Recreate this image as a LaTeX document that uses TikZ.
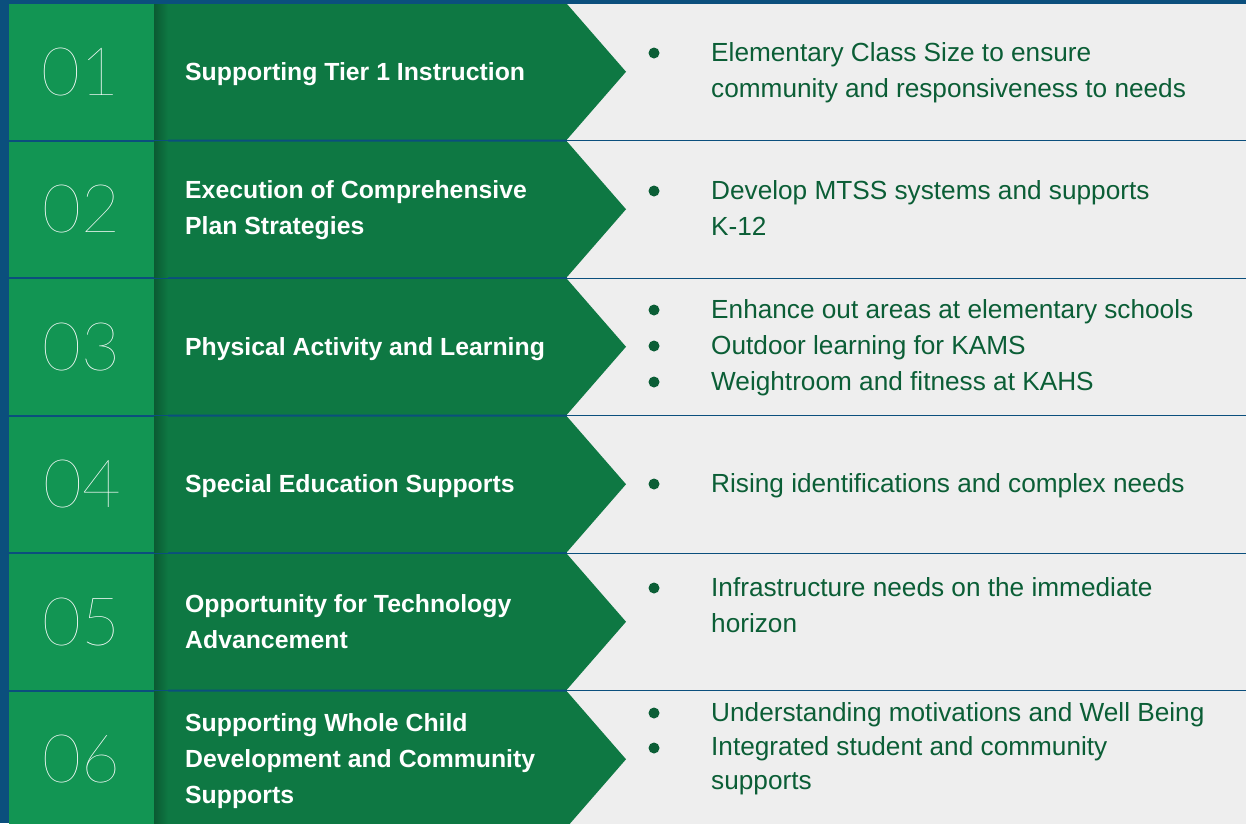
\documentclass[tikz,border=0pt]{standalone}
\usepackage{fontspec}
\setmainfont{Liberation Sans}
% light face for the large row numbers, with fallbacks
\IfFontExistsTF{Lato Thin}{\newfontfamily\thinfont{Lato Thin}}{%
  \IfFontExistsTF{Fira Sans Thin}{\newfontfamily\thinfont{Fira Sans Thin}}{%
    \IfFontExistsTF{Lato Hairline}{\newfontfamily\thinfont{Lato Hairline}}{%
      \IfFontExistsTF{Fira Sans ExtraLight}{\newfontfamily\thinfont{Fira Sans ExtraLight}}{%
        \IfFontExistsTF{DejaVu Sans ExtraLight}{\newfontfamily\thinfont{DejaVu Sans ExtraLight}}{%
          \IfFontExistsTF{Lato Light}{\newfontfamily\thinfont{Lato Light}}{%
            \newfontfamily\thinfont{Liberation Sans}}}}}}}

\definecolor{bgblue}{HTML}{0B4F7D}
\definecolor{numgreen}{HTML}{129553}
\definecolor{arrowgreen}{HTML}{0E7843}
\definecolor{panelgray}{HTML}{EEEEEE}
\definecolor{textgreen}{HTML}{0B5E36}

\tikzset{
  numtext/.style={text=white, font=\thinfont\fontsize{67}{67}\selectfont, inner sep=0pt},
  labeltext/.style={text=white, font=\bfseries\fontsize{24.8}{36}\selectfont, inner sep=0pt, anchor=base west},
  itemtext/.style={text=textgreen, font=\fontsize{26.2}{36}\selectfont, inner sep=0pt, anchor=base west},
  itemdot/.style={circle, fill=textgreen, minimum size=11pt, inner sep=0pt},
}

% one row band: grey panel, green chevron, number box
\newcommand{\rowband}[1]{%
  \fill[panelgray] (567,#1-0.5) rectangle (1246,#1+136);
  \fill[arrowgreen] (154,#1) -- (567,#1) -- (626,#1+67.75) -- (567,#1+135.5) -- (154,#1+135.5) -- cycle;
  \shade[left color=arrowgreen!75!black, right color=arrowgreen] (154,#1) rectangle (168,#1+135.5);
  \fill[numgreen] (9,#1) rectangle (154,#1+135.5);
}

\begin{document}
\begin{tikzpicture}[x=1pt, y=-1pt]
  \fill[bgblue] (0,0) rectangle (1246,823);
  \useasboundingbox (0,0) rectangle (1246,823);

  \rowband{4}
  \rowband{141.5}
  \rowband{279}
  \rowband{416.5}
  \rowband{554}
  \rowband{691.5}

  % numbers
  \node[numtext] (n1) at (80,72) {01};
  \node[numtext] (n2) at (81,209.5) {02};
  \node[numtext] (n3) at (81,347) {03};
  \node[numtext] (n4) at (82,484) {04};
  \node[numtext] (n5) at (81,622) {05};
  \node[numtext] (n6) at (81,759.5) {06};

  % chevron labels
  \node[labeltext] (l1) at (185,80) {Supporting Tier 1 Instruction};
  \node[labeltext] (l2a) at (185,198) {Execution of Comprehensive};
  \node[labeltext] (l2b) at (185,234) {Plan Strategies};
  \node[labeltext] (l3) at (185,355) {Physical Activity and Learning};
  \node[labeltext] (l4) at (185,492) {Special Education Supports};
  \node[labeltext] (l5a) at (185,612) {Opportunity for Technology};
  \node[labeltext] (l5b) at (185,648) {Advancement};
  \node[labeltext] (l6a) at (185,731) {Supporting Whole Child};
  \node[labeltext] (l6b) at (185,767) {Development and Community};
  \node[labeltext] (l6c) at (185,803) {Supports};

  % bullet points
  \node[itemdot] (d1) at (654,53) {};
  \node[itemtext] (t1a) at (711,61) {Elementary Class Size to ensure};
  \node[itemtext] (t1b) at (711,97) {community and responsiveness to needs};

  \node[itemdot] (d2) at (654,191) {};
  \node[itemtext] (t2a) at (711,199) {Develop MTSS systems and supports};
  \node[itemtext] (t2b) at (711,235) {K-12};

  \node[itemdot] (d3a) at (654,310) {};
  \node[itemtext] (t3a) at (711,318) {Enhance out areas at elementary schools};
  \node[itemdot] (d3b) at (654,346) {};
  \node[itemtext] (t3b) at (711,354) {Outdoor learning for KAMS};
  \node[itemdot] (d3c) at (654,382) {};
  \node[itemtext] (t3c) at (711,390) {Weightroom and fitness at KAHS};

  \node[itemdot] (d4) at (654,484) {};
  \node[itemtext] (t4) at (711,492) {Rising identifications and complex needs};

  \node[itemdot] (d5) at (654,588) {};
  \node[itemtext] (t5a) at (711,596) {Infrastructure needs on the immediate};
  \node[itemtext] (t5b) at (711,632) {horizon};

  \node[itemdot] (d6a) at (654,713) {};
  \node[itemtext] (t6a) at (711,721) {Understanding motivations and Well Being};
  \node[itemdot] (d6b) at (654,748) {};
  \node[itemtext] (t6b) at (711,755) {Integrated student and community};
  \node[itemtext] (t6c) at (711,789) {supports};
\end{tikzpicture}
\end{document}
